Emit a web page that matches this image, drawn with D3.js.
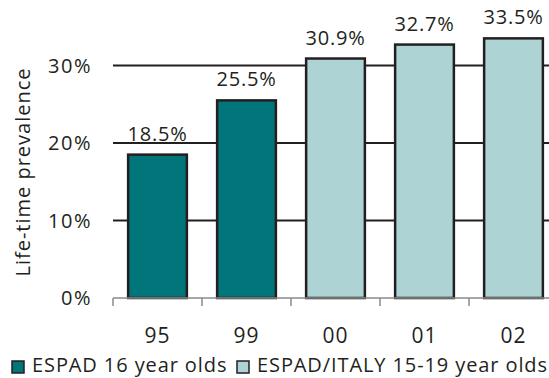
<!DOCTYPE html>
<html>
<head>
<meta charset="utf-8">
<script src="https://cdn.jsdelivr.net/npm/d3@7"></script>
<style>
  body { margin: 0; background: #fff; }
  svg { display: block; font-family: 'Open Sans', sans-serif; }
</style>
</head>
<body>
<div id="chart"></div>
<script>
// data
const years = ['95', '99', '00', '01', '02'];
const prevalence = [18.5, 25.5, 30.9, 32.7, 33.5];
const series = ['espad', 'espad', 'italy', 'italy', 'italy'];
const yTicks = [0, 10, 20, 30];
const legendLabels = ['ESPAD 16 year olds', 'ESPAD/ITALY 15-19 year olds'];

const width = 549;
const height = 378;
const colors = { espad: '#00767b', italy: '#aed3d4' };
const ink = '#231f20';

const svg = d3.select('#chart')
  .append('svg')
  .attr('width', width)
  .attr('height', height);

// scales - plot runs off the right edge like the original
const x = d3.scaleBand()
  .domain(years)
  .range([113, 558])
  .paddingInner(0.34)
  .paddingOuter(0.17);

const y = d3.scaleLinear()
  .domain([0, 40])
  .range([298, -12]);

// gridlines (behind bars)
svg.append('g')
  .selectAll('line')
  .data(yTicks.filter(d => d > 0))
  .enter()
  .append('line')
  .attr('x1', 113)
  .attr('x2', 560)
  .attr('y1', d => y(d))
  .attr('y2', d => y(d))
  .attr('stroke', ink)
  .attr('stroke-width', 2);

// y tick labels
svg.append('g')
  .selectAll('text')
  .data(yTicks)
  .enter()
  .append('text')
  .attr('x', 92)
  .attr('y', d => y(d))
  .attr('dy', '0.35em')
  .attr('text-anchor', 'end')
  .attr('font-size', 20)
  .attr('letter-spacing', 1.5)
  .attr('fill', ink)
  .text(d => d + '%');

// y title
svg.append('text')
  .attr('transform', 'translate(30,172) rotate(-90)')
  .attr('text-anchor', 'middle')
  .attr('font-size', 20)
  .attr('letter-spacing', 1)
  .attr('fill', ink)
  .text('Life-time prevalence');

// bars
const rows = years.map((yr, i) => ({ year: yr, value: prevalence[i], s: series[i] }));

svg.append('g')
  .selectAll('rect')
  .data(rows)
  .enter()
  .append('rect')
  .attr('x', d => x(d.year))
  .attr('y', d => y(d.value))
  .attr('width', x.bandwidth())
  .attr('height', d => y(0) - y(d.value))
  .attr('fill', d => colors[d.s])
  .attr('stroke', ink)
  .attr('stroke-width', 2.5);

// value labels
svg.append('g')
  .selectAll('text')
  .data(rows)
  .enter()
  .append('text')
  .attr('x', d => x(d.year) + x.bandwidth() / 2)
  .attr('y', d => y(d.value) - 14)
  .attr('text-anchor', 'middle')
  .attr('font-size', 20)
  .attr('letter-spacing', 0.8)
  .attr('fill', ink)
  .text(d => d.value.toFixed(1) + '%');

// x axis: grey baseline with ticks between categories
const xAxis = svg.append('g').attr('transform', `translate(0,${y(0)})`);
xAxis.append('line')
  .attr('x1', 113)
  .attr('x2', 560)
  .attr('stroke', '#8a8a8a')
  .attr('stroke-width', 1.5);
xAxis.selectAll('.tick')
  .data(years)
  .enter()
  .append('line')
  .attr('x1', d => x(d) - x.step() * x.paddingOuter())
  .attr('x2', d => x(d) - x.step() * x.paddingOuter())
  .attr('y1', 0)
  .attr('y2', 8)
  .attr('stroke', '#8a8a8a')
  .attr('stroke-width', 1.5);
xAxis.selectAll('text')
  .data(years)
  .enter()
  .append('text')
  .attr('x', d => x(d) + x.bandwidth() / 2)
  .attr('y', 45)
  .attr('text-anchor', 'middle')
  .attr('font-size', 21)
  .attr('letter-spacing', 1)
  .attr('fill', ink)
  .text(d => d);

// legend (sits on the bottom edge; nudged up so descenders stay visible)
const legendX = [12, 237];
const legend = svg.append('g');
legend.selectAll('rect')
  .data(legendLabels)
  .enter()
  .append('rect')
  .attr('x', (d, i) => legendX[i])
  .attr('y', 361)
  .attr('width', 12)
  .attr('height', 12)
  .attr('fill', (d, i) => i === 0 ? colors.espad : colors.italy)
  .attr('stroke', ink)
  .attr('stroke-width', 1.5);
legend.selectAll('text')
  .data(legendLabels)
  .enter()
  .append('text')
  .attr('x', (d, i) => legendX[i] + 20)
  .attr('y', 372)
  .attr('font-size', 20)
  .attr('letter-spacing', 0.9)
  .attr('fill', ink)
  .text(d => d);
</script>
</body>
</html>
